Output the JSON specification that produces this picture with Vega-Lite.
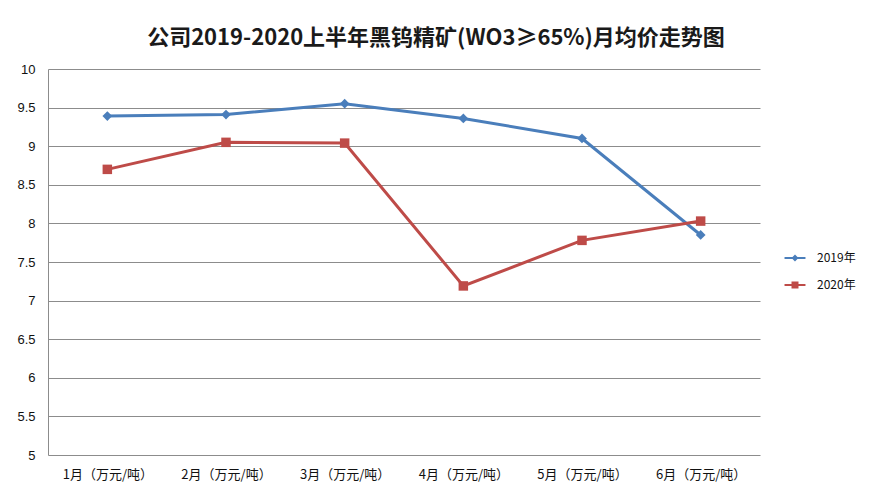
{
  "$schema": "https://vega.github.io/schema/vega-lite/v6.json",
  "width": 712,
  "height": 386,
  "autosize": {"type": "none"},
  "padding": {"left": 48, "top": 69, "right": 109, "bottom": 33},
  "background": "white",
  "title": {
    "text": "公司2019-2020上半年黑钨精矿(WO3≥65%)月均价走势图",
    "font": "Noto Sans CJK SC",
    "fontSize": 22,
    "fontWeight": "bold",
    "color": "#1a1a1a",
    "anchor": "middle",
    "dx": 32,
    "offset": 13
  },
  "data": {
    "values": [
      {"month": "1月（万元/吨）", "series": "2019年", "price": 9.39},
      {"month": "2月（万元/吨）", "series": "2019年", "price": 9.41},
      {"month": "3月（万元/吨）", "series": "2019年", "price": 9.55},
      {"month": "4月（万元/吨）", "series": "2019年", "price": 9.36},
      {"month": "5月（万元/吨）", "series": "2019年", "price": 9.10},
      {"month": "6月（万元/吨）", "series": "2019年", "price": 7.85},
      {"month": "1月（万元/吨）", "series": "2020年", "price": 8.70},
      {"month": "2月（万元/吨）", "series": "2020年", "price": 9.05},
      {"month": "3月（万元/吨）", "series": "2020年", "price": 9.04},
      {"month": "4月（万元/吨）", "series": "2020年", "price": 7.19},
      {"month": "5月（万元/吨）", "series": "2020年", "price": 7.78},
      {"month": "6月（万元/吨）", "series": "2020年", "price": 8.03}
    ]
  },
  "encoding": {
    "x": {
      "field": "month", "type": "ordinal", "sort": null,
      "scale": {"type": "point", "padding": 0.5},
      "axis": {
        "title": null, "labelAngle": 0, "domain": false, "ticks": false,
        "labelFont": "Noto Sans CJK SC", "labelFontSize": 13, "labelColor": "#111111",
        "labelPadding": 13
      }
    },
    "y": {
      "field": "price", "type": "quantitative",
      "scale": {"domain": [5, 10], "nice": false, "zero": false},
      "axis": {
        "title": null, "values": [5, 5.5, 6, 6.5, 7, 7.5, 8, 8.5, 9, 9.5, 10],
        "format": "~g",
        "grid": true, "gridColor": "#8c8c8c", "gridWidth": 1,
        "domain": true, "domainColor": "#8c8c8c", "ticks": false,
        "labelFont": "Liberation Sans", "labelFontSize": 13, "labelColor": "#111111",
        "labelPadding": 13
      }
    },
    "color": {
      "field": "series", "type": "nominal",
      "scale": {"domain": ["2019年", "2020年"], "range": ["#4a7ebb", "#be4b48"]},
      "legend": {
        "title": null, "orient": "none", "legendX": 735, "legendY": 182,
        "labelFont": "Noto Sans CJK SC", "labelFontSize": 12, "labelColor": "#111111",
        "symbolSize": 100, "rowPadding": 14, "labelOffset": 20,
        "encode": {
          "symbols": {
            "update": {
              "shape": {"signal": "datum.value === '2019年' ? 'M-1.5,-0.15H1.5V0.15H-1.5Z M0,-0.5L0.5,0L0,0.5L-0.5,0Z' : 'M-1.5,-0.15H1.5V0.15H-1.5Z M-0.5,-0.5H0.5V0.5H-0.5Z'"},
              "fill": {"signal": "datum.value === '2019年' ? '#4a7ebb' : '#be4b48'"},
              "size": {"value": 195},
              "strokeWidth": {"value": 0},
              "opacity": {"value": 1},
              "xc": {"value": 12}
            }
          }
        }
      }
    }
  },
  "layer": [
    {"mark": {"type": "line", "strokeWidth": 3}},
    {
      "transform": [{"filter": "datum.series === '2019年'"}],
      "mark": {"type": "point", "shape": "diamond", "filled": true, "opacity": 1, "size": 95}
    },
    {
      "transform": [{"filter": "datum.series === '2020年'"}],
      "mark": {"type": "point", "shape": "square", "filled": true, "opacity": 1, "size": 90}
    }
  ],
  "config": {
    "view": {"stroke": null}
  }
}
